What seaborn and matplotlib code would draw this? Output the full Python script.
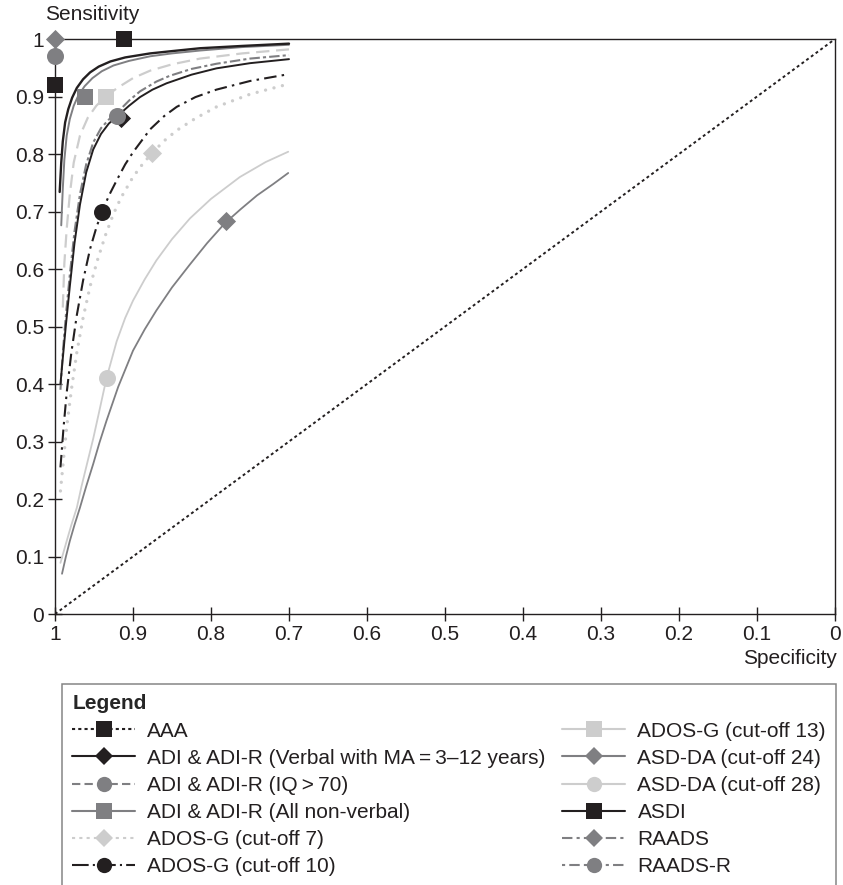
import matplotlib
matplotlib.use("Agg")
import matplotlib.pyplot as plt
from matplotlib.lines import Line2D
import seaborn as sns

# Colours used in the figure
BLACK = '#231f20'
GREY = '#7f7f82'
LIGHT = '#cdcdcd'

# SROC curves (specificity, sensitivity)
asdi_spec = [0.994, 0.992, 0.990, 0.987, 0.983, 0.978, 0.972, 0.964, 0.955, 0.944, 0.929, 0.910, 0.878, 0.85, 0.814, 0.76, 0.70]
asdi_sens = [0.734, 0.785, 0.822, 0.855, 0.878, 0.898, 0.915, 0.930, 0.942, 0.952, 0.961, 0.968, 0.975, 0.979, 0.984, 0.988, 0.992]

nonverbal_spec = [0.992, 0.990, 0.988, 0.985, 0.981, 0.976, 0.970, 0.962, 0.952, 0.940, 0.925, 0.905, 0.878, 0.85, 0.814, 0.76, 0.70]
nonverbal_sens = [0.676, 0.740, 0.790, 0.832, 0.861, 0.884, 0.902, 0.918, 0.932, 0.944, 0.954, 0.962, 0.970, 0.975, 0.980, 0.986, 0.990]

cut13_spec = [0.990, 0.988, 0.985, 0.981, 0.976, 0.968, 0.958, 0.947, 0.935, 0.920, 0.900, 0.878, 0.85, 0.814, 0.76, 0.70]
cut13_sens = [0.533, 0.610, 0.670, 0.730, 0.785, 0.832, 0.863, 0.884, 0.900, 0.915, 0.932, 0.945, 0.956, 0.966, 0.975, 0.982]

iq70_spec = [0.993, 0.990, 0.986, 0.981, 0.975, 0.968, 0.960, 0.951, 0.941, 0.931, 0.921, 0.905, 0.891, 0.870, 0.853, 0.825, 0.793, 0.75, 0.70]
iq70_sens = [0.390, 0.455, 0.520, 0.590, 0.665, 0.730, 0.782, 0.820, 0.845, 0.860, 0.871, 0.893, 0.909, 0.926, 0.936, 0.948, 0.957, 0.966, 0.972]

verbal_spec = [0.993, 0.990, 0.986, 0.981, 0.975, 0.968, 0.960, 0.951, 0.941, 0.931, 0.920, 0.905, 0.891, 0.875, 0.857, 0.825, 0.793, 0.75, 0.70]
verbal_sens = [0.400, 0.445, 0.503, 0.570, 0.645, 0.712, 0.768, 0.808, 0.835, 0.853, 0.866, 0.884, 0.899, 0.912, 0.923, 0.938, 0.949, 0.958, 0.965]

cut10_spec = [0.993, 0.989, 0.985, 0.979, 0.972, 0.964, 0.955, 0.947, 0.940, 0.930, 0.921, 0.910, 0.900, 0.878, 0.860, 0.844, 0.82, 0.793, 0.75, 0.70]
cut10_sens = [0.255, 0.325, 0.385, 0.455, 0.520, 0.580, 0.635, 0.672, 0.699, 0.730, 0.754, 0.782, 0.803, 0.843, 0.866, 0.882, 0.899, 0.912, 0.927, 0.939]

cut7_spec = [0.993, 0.989, 0.985, 0.979, 0.972, 0.964, 0.955, 0.945, 0.935, 0.925, 0.915, 0.900, 0.888, 0.876, 0.860, 0.844, 0.82, 0.793, 0.75, 0.70]
cut7_sens = [0.214, 0.270, 0.325, 0.390, 0.455, 0.515, 0.570, 0.618, 0.660, 0.696, 0.725, 0.760, 0.782, 0.801, 0.823, 0.841, 0.862, 0.882, 0.904, 0.922]

cut28_spec = [0.993, 0.989, 0.985, 0.979, 0.972, 0.966, 0.959, 0.951, 0.944, 0.934, 0.921, 0.910, 0.900, 0.885, 0.870, 0.850, 0.827, 0.800, 0.763, 0.730, 0.701]
cut28_sens = [0.089, 0.108, 0.127, 0.155, 0.185, 0.222, 0.261, 0.305, 0.348, 0.410, 0.474, 0.515, 0.545, 0.582, 0.615, 0.652, 0.688, 0.722, 0.760, 0.786, 0.804]

cut24_spec = [0.991, 0.986, 0.981, 0.975, 0.968, 0.960, 0.951, 0.943, 0.934, 0.919, 0.900, 0.885, 0.870, 0.850, 0.827, 0.805, 0.782, 0.762, 0.741, 0.720, 0.701]
cut24_sens = [0.070, 0.100, 0.127, 0.155, 0.185, 0.222, 0.261, 0.298, 0.336, 0.395, 0.458, 0.495, 0.528, 0.568, 0.608, 0.645, 0.680, 0.704, 0.728, 0.748, 0.767]

# chance line
diag_spec = [1.0, 0.0]
diag_sens = [0.0, 1.0]

# Summary points (specificity, sensitivity)
point_spec = [1.0, 0.912, 1.0, 1.0, 0.962, 0.935, 0.915, 0.92, 0.876, 0.94, 0.781, 0.933]
point_sens = [0.92, 1.0, 1.0, 0.97, 0.899, 0.90, 0.862, 0.866, 0.801, 0.699, 0.684, 0.411]
point_marker = ['s', 's', 'D', 'o', 's', 's', 'D', 'o', 'D', 'o', 'D', 'o']
point_color = [BLACK, BLACK, GREY, GREY, GREY, LIGHT, BLACK, GREY, LIGHT, BLACK, GREY, LIGHT]

legend_labels = ['AAA',
                 'ADI & ADI-R (Verbal with MA\u2009=\u20093\u201312 years)',
                 'ADI & ADI-R (IQ\u2009>\u200970)',
                 'ADI & ADI-R (All non-verbal)',
                 'ADOS-G (cut-off 7)',
                 'ADOS-G (cut-off 10)',
                 'ADOS-G (cut-off 13)',
                 'ASD-DA (cut-off 24)',
                 'ASD-DA (cut-off 28)',
                 'ASDI',
                 'RAADS',
                 'RAADS-R']

sns.set_style("ticks")
plt.rcParams['font.family'] = ['Liberation Sans', 'DejaVu Sans']
plt.rcParams['font.size'] = 15

fig = plt.figure(figsize=(8.43, 8.85), dpi=100)
ax = fig.add_axes([0.06524, 0.3062, 0.92527, 0.6497])

# curves: data, colour, width, dash pattern, cap style
curves = [
    (diag_spec, diag_sens, BLACK, 1.4, (0, (1.5, 1.5)), 'butt'),
    (cut24_spec, cut24_sens, GREY, 1.3, '-', 'butt'),
    (cut28_spec, cut28_sens, LIGHT, 1.3, '-', 'butt'),
    (cut7_spec, cut7_sens, LIGHT, 2.4, (0, (0.01, 2.6)), 'round'),
    (cut10_spec, cut10_sens, BLACK, 1.5, (0, (6, 2.5, 1.2, 2.5)), 'butt'),
    (iq70_spec, iq70_sens, GREY, 1.5, (0, (5, 1.5, 1.5, 1.5)), 'butt'),
    (verbal_spec, verbal_sens, BLACK, 1.4, '-', 'butt'),
    (cut13_spec, cut13_sens, LIGHT, 1.6, (0, (6, 3)), 'butt'),
    (nonverbal_spec, nonverbal_sens, GREY, 1.4, '-', 'butt'),
    (asdi_spec, asdi_sens, BLACK, 1.7, '-', 'butt'),
]
for xs, ys, col, lw, ls, cap in curves:
    sns.lineplot(x=xs, y=ys, ax=ax, color=col, linewidth=lw, linestyle=ls,
                 dash_capstyle=cap, sort=False, estimator=None)

# summary points
sizes = {'s': 125, 'D': 95, 'o': 150}
for sx, sy, m, c in zip(point_spec, point_sens, point_marker, point_color):
    sns.scatterplot(x=[sx], y=[sy], marker=m, s=sizes[m], color=c, linewidth=0,
                    ax=ax, clip_on=False, zorder=5)

ax.set_xlim(1, 0)
ax.set_ylim(0, 1)
ticks = [0, 0.1, 0.2, 0.3, 0.4, 0.5, 0.6, 0.7, 0.8, 0.9, 1]
ax.set_xticks(ticks)
ax.set_yticks(ticks)
ax.set_xticklabels([f"{t:g}" for t in ticks])
ax.set_yticklabels([f"{t:g}" for t in ticks])
ax.tick_params(direction='inout', length=10, width=1, colors=BLACK, labelsize=15, pad=3)
for sp in ax.spines.values():
    sp.set_visible(True)
    sp.set_color(BLACK)
    sp.set_linewidth(1)
ax.set_xlabel('')
ax.set_ylabel('')

fig.text(45 / 843, 1 - 15 / 885, 'Sensitivity', ha='left', va='center', fontsize=15, color=BLACK)
fig.text(837 / 843, 1 - 658 / 885, 'Specificity', ha='right', va='center', fontsize=15, color=BLACK)

# legend built from proxy handles
styles = [
    (BLACK, (0, (1.5, 1.5)), 's', BLACK),
    (BLACK, '-', 'D', BLACK),
    (GREY, (0, (4, 2)), 'o', GREY),
    (GREY, '-', 's', GREY),
    (LIGHT, (0, (1.5, 2)), 'D', LIGHT),
    (BLACK, (0, (8, 2, 1, 2)), 'o', BLACK),
    (LIGHT, '-', 's', LIGHT),
    (GREY, '-', 'D', GREY),
    (LIGHT, '-', 'o', LIGHT),
    (BLACK, '-', 's', BLACK),
    (GREY, (0, (5, 2, 1.5, 2)), 'D', GREY),
    (GREY, (0, (1.5, 2, 5, 2)), 'o', GREY),
]
handles = [Line2D([], [], color=c, linestyle=ls, linewidth=1.5, marker=m,
                  markersize=11 if m != 'D' else 9.5, markerfacecolor=mc,
                  markeredgewidth=0)
           for c, ls, m, mc in styles]
leg = fig.legend(handles, legend_labels, ncol=2, loc='upper left',
                 bbox_to_anchor=(62 / 843, 1 - 684 / 885), fontsize=15,
                 title='Legend', title_fontproperties={'weight': 'bold', 'size': 15},
                 alignment='left', frameon=True, fancybox=False, edgecolor='#666666',
                 handlelength=3.0, handletextpad=0.6, columnspacing=0.8,
                 labelspacing=0.39, borderpad=0.5, borderaxespad=0)
leg.get_frame().set_linewidth(1.1)
for t in leg.get_texts():
    t.set_color(BLACK)

fig.savefig('out.png', dpi=100)
